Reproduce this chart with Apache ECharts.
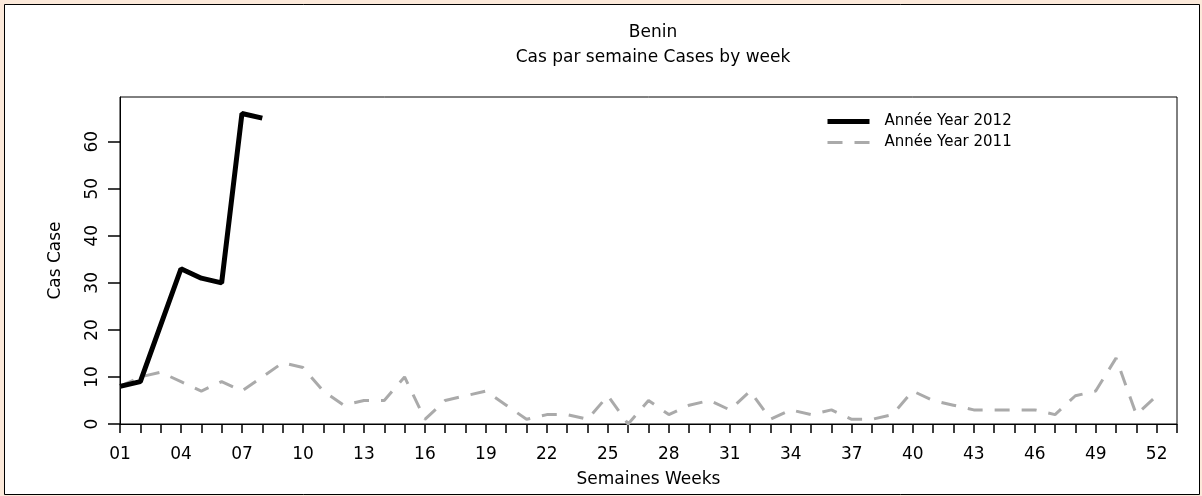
<!DOCTYPE html>
<html>
<head>
<meta charset="utf-8">
<script src="https://cdn.jsdelivr.net/npm/echarts@6/dist/echarts.min.js"></script>
<style>
html,body{margin:0;padding:0;background:#FCE9DA;}
#chart{width:1202px;height:496px;}
</style>
</head>
<body>
<div id="chart"></div>
<script>
// ---- data ----
const chartTitle = 'Benin';
const chartSubtitle = 'Cas par semaine Cases by week';
const xAxisName = 'Semaines Weeks';
const yAxisName = 'Cas Case';
const seriesNames = ['Année Year 2012', 'Année Year 2011'];
const cases2012 = [8, 9, 21, 33, 31, 30, 66, 65];
const cases2011 = [8, 10, 11, 9, 7, 9, 7, 10, 13, 12, 7, 4, 5, 5, 10, 1, 5, 6, 7, 4,
                   1, 2, 2, 1, 6, 0, 5, 2, 4, 5, 3, 7, 1, 3, 2, 3, 1, 1, 2, 7,
                   5, 4, 3, 3, 3, 3, 2, 6, 7, 14, 2, 6];
const xTickLabels = ['01','04','07','10','13','16','19','22','25','28','31','34','37','40','43','46','49','52'];
const yTickLabels = [0, 10, 20, 30, 40, 50, 60];

const toPairs = arr => arr.map((v, i) => [i + 1, v]);
const xLabelValues = xTickLabels.map(s => parseInt(s, 10));
const font = 'DejaVu Sans';
const black = '#000000';
const grey = '#AAAAAA';

const chart = echarts.init(document.getElementById('chart'));
chart.setOption({
  backgroundColor: '#FCE9DA',
  animation: false,
  graphic: [{
    type: 'rect', z: -10, silent: true,
    shape: { x: 4.5, y: 4.5, width: 1195, height: 490 },
    style: { fill: '#ffffff', stroke: '#000000', lineWidth: 1 }
  }],
  title: [
    { text: chartTitle, left: 648, top: 19, textAlign: 'center',
      textStyle: { fontFamily: font, fontSize: 17, fontWeight: 'normal', color: '#000' } },
    { text: chartSubtitle, left: 648, top: 44, textAlign: 'center',
      textStyle: { fontFamily: font, fontSize: 17, fontWeight: 'normal', color: '#000' } }
  ],
  legend: {
    orient: 'vertical', left: 820, top: 109,
    itemWidth: 42, itemHeight: 14, itemGap: 6,
    itemStyle: { opacity: 0 },
    data: [
      { name: seriesNames[0], lineStyle: { color: black, width: 5, type: 'solid' } },
      { name: seriesNames[1], lineStyle: { color: grey, width: 3, type: [15, 12] } }
    ],
    textStyle: { fontFamily: font, fontSize: 15, color: '#000', padding: [0, 0, 0, 10] }
  },
  grid: { left: 120, right: 25, top: 97, bottom: 72, show: true, borderColor: '#000', borderWidth: 1,
          backgroundColor: 'transparent', containLabel: false, outerBoundsMode: 'none' },
  xAxis: {
    type: 'value', min: 1, max: 53, interval: 1,
    name: xAxisName, nameLocation: 'middle', nameGap: 47,
    nameTextStyle: { fontFamily: font, fontSize: 17, color: '#000' },
    axisLine: { show: true, onZero: false, lineStyle: { color: '#000', width: 1 } },
    axisTick: { show: true, inside: false, length: 9, lineStyle: { color: '#000', width: 1.5 } },
    axisLabel: {
      customValues: xLabelValues, margin: 22,
      fontFamily: font, fontSize: 17, color: '#000',
      formatter: v => String(v).padStart(2, '0')
    },
    splitLine: { show: false }
  },
  yAxis: {
    type: 'value', min: 0, max: 69.5, interval: 10,
    name: yAxisName, nameLocation: 'middle', nameGap: 56, nameRotate: 90,
    nameTextStyle: { fontFamily: font, fontSize: 17, color: '#000' },
    axisLine: { show: true, lineStyle: { color: '#000', width: 1 } },
    axisTick: { show: true, length: 12, customValues: yTickLabels, lineStyle: { color: '#000', width: 1.5 } },
    axisLabel: {
      customValues: yTickLabels, rotate: 90, margin: 19,
      fontFamily: font, fontSize: 17, color: '#000'
    },
    splitLine: { show: false }
  },
  series: [
    {
      name: seriesNames[1], type: 'line', data: toPairs(cases2011),
      symbol: 'none', z: 2,
      lineStyle: { color: grey, width: 3, type: [15, 12] },
      itemStyle: { color: grey }
    },
    {
      name: seriesNames[0], type: 'line', data: toPairs(cases2012),
      symbol: 'none', z: 3,
      lineStyle: { color: black, width: 5 },
      itemStyle: { color: black }
    }
  ]
});
</script>
</body>
</html>
